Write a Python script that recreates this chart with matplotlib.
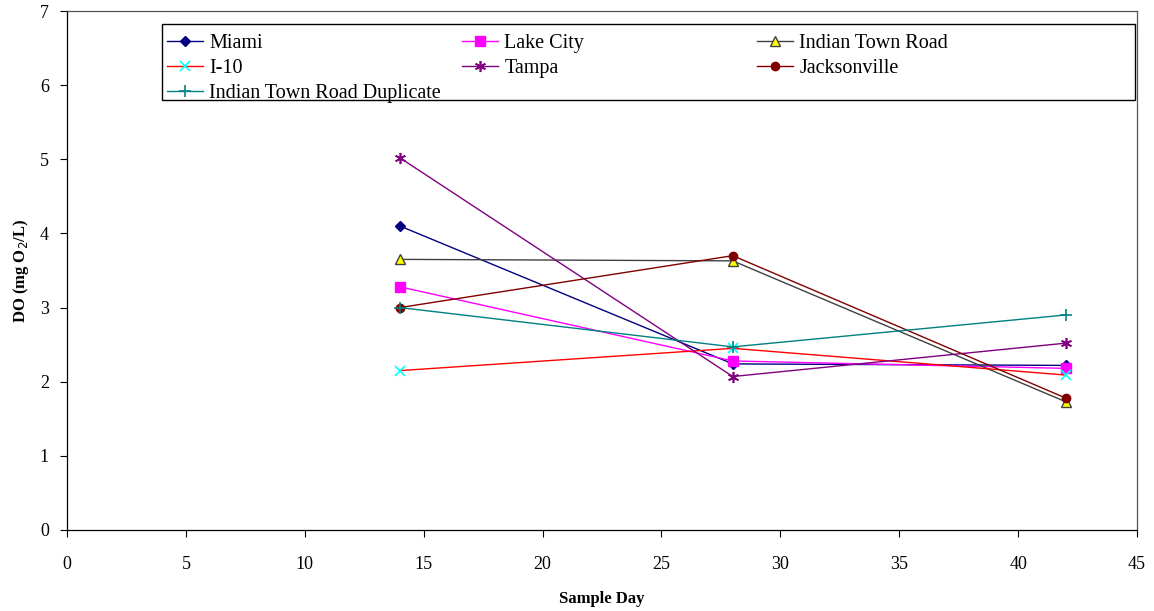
import matplotlib.pyplot as plt
from matplotlib.patches import Rectangle
from matplotlib.legend import Legend

days = [14, 28, 42]

miami = [4.10, 2.24, 2.22]
lake_city = [3.28, 2.28, 2.18]
indian_town = [3.65, 3.63, 1.73]
i10 = [2.15, 2.45, 2.09]
tampa = [5.02, 2.07, 2.52]
jacksonville = [3.00, 3.70, 1.78]
itr_dup = [3.00, 2.47, 2.90]

plt.rcParams['font.family'] = ['Liberation Serif', 'DejaVu Serif']

W, H = 1154, 611
fig = plt.figure(figsize=(W / 100, H / 100), dpi=100)
ax = fig.add_axes([67 / W, 81 / H, 1070 / W, 519 / H])

h_miami, = ax.plot(days, miami, color='#000080', marker='D', markersize=5, lw=1, label='Miami')
h_lake, = ax.plot(days, lake_city, color='#FF00FF', marker='s', markersize=7, lw=1, label='Lake City')
h_itr, = ax.plot(days, indian_town, color='#404040', marker='^', markersize=7, markerfacecolor='#FFFF00',
                 markeredgecolor='#404040', lw=1, label='Indian Town Road')
h_i10, = ax.plot(days, i10, color='#FF0000', marker='x', markersize=7, markeredgecolor='#00FFFF',
                 markeredgewidth=1.2, lw=1, label='I-10')
h_tampa, = ax.plot(days, tampa, color='#800080', marker=(6, 2, 0), markersize=8, markeredgewidth=1.2,
                   lw=1, label='Tampa')
h_jax, = ax.plot(days, jacksonville, color='#800000', marker='o', markersize=6, lw=1, label='Jacksonville')
h_dup, = ax.plot(days, itr_dup, color='#008080', marker='+', markersize=9, markeredgewidth=1.2,
                 lw=1, label='Indian Town Road Duplicate')

ax.set_xlim(0, 45)
ax.set_ylim(0, 7)
ax.set_xticks(range(0, 46, 5))
ax.set_yticks(range(0, 8))
ax.tick_params(direction='out', length=5, labelsize=13)
ax.tick_params(axis='x', pad=14)
ax.tick_params(axis='y', pad=8)
for s in ax.spines.values():
    s.set_linewidth(0.9)
ax.spines['top'].set_color('#555555')
ax.spines['right'].set_color('#555555')

ax.set_xlabel('Sample Day', fontsize=12, fontweight='bold', labelpad=13)
ax.set_ylabel('DO (mg O$_2$/L)', fontsize=12, fontweight='bold', labelpad=6)

# legend: three columns laid out like the original, one shared frame
columns = [[h_miami, h_i10, h_dup], [h_lake, h_tampa], [h_itr, h_jax]]
col_x = [167, 462, 757]
top_y = 1 - (34 - 11) / 519
for hs, x in zip(columns, col_x):
    lg = Legend(ax, hs, [h.get_label() for h in hs], loc='upper left',
                bbox_to_anchor=((x - 67) / 1070, top_y), bbox_transform=ax.transAxes,
                fontsize=14.5, frameon=False, handlelength=1.8, handletextpad=0.3,
                borderpad=0, labelspacing=0.3, borderaxespad=0)
    ax.add_artist(lg)

ax.add_patch(Rectangle(((162 - 67) / 1070, 1 - (100 - 11) / 519), (1135 - 162) / 1070, 76 / 519,
                       transform=ax.transAxes, fill=False, edgecolor='black', lw=1.0,
                       clip_on=False, zorder=5))

fig.savefig('out.png', dpi=100)
